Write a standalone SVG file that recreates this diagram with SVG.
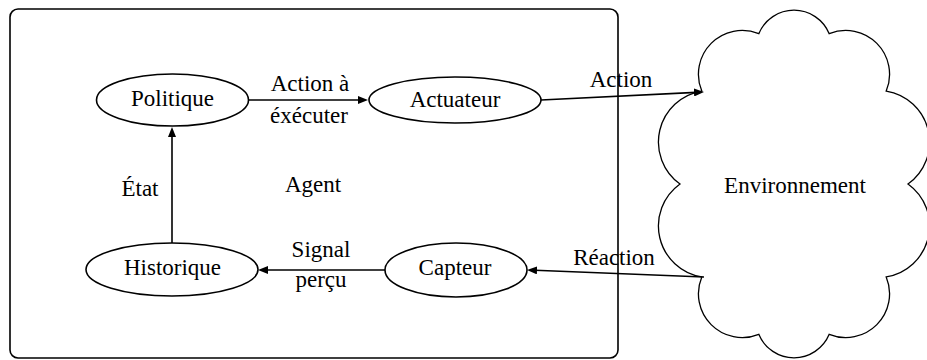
<svg xmlns="http://www.w3.org/2000/svg" width="927" height="360" viewBox="0 0 927 360">
<style>
text{font-size:23px;fill:#000;text-anchor:middle}
.node{fill:#fff;stroke:#000;stroke-width:1.6}
.edge{fill:none;stroke:#000;stroke-width:1.6;marker-end:url(#arr)}
.box{fill:none;stroke:#000;stroke-width:1.6}
.cloud{fill:#fff;stroke:#000;stroke-width:1.3}
</style>
<defs>
<marker id="arr" viewBox="0 0 10 8" markerWidth="10" markerHeight="8" refX="2" refY="4" orient="auto" markerUnits="userSpaceOnUse">
<path d="M0,0 L10,4 L0,8 Z" fill="#000"/>
</marker>
</defs>
<g font-family="Liberation Serif, serif">
<g id="agent">
<rect class="box" x="10" y="9" width="608" height="349" rx="8"/>
<text x="313" y="192">Agent</text>
</g>
<g id="environnement">
<path class="cloud" d="M908,184 A51.6,51.6 0 0 0 886.2,91.1 A43.8,43.8 0 0 0 829.2,33.7 A38.1,38.1 0 0 0 758.8,33.7 A43.8,43.8 0 0 0 701.8,91.1 A51.6,51.6 0 0 0 680,184 A51.6,51.6 0 0 0 701.8,276.9 A43.8,43.8 0 0 0 758.8,334.3 A38.1,38.1 0 0 0 829.2,334.3 A43.8,43.8 0 0 0 886.2,276.9 A51.6,51.6 0 0 0 908,184 Z"/>
<text x="795" y="193">Environnement</text>
</g>
<g id="politique">
<ellipse class="node" cx="172.5" cy="100" rx="76" ry="26"/>
<text x="172.5" y="106">Politique</text>
</g>
<g id="actuateur">
<ellipse class="node" cx="455" cy="100" rx="86" ry="23"/>
<text x="455" y="107">Actuateur</text>
</g>
<g id="historique">
<ellipse class="node" cx="172" cy="269.5" rx="86" ry="26.5"/>
<text x="172.5" y="275">Historique</text>
</g>
<g id="capteur">
<ellipse class="node" cx="456" cy="270" rx="71" ry="27"/>
<text x="455" y="275">Capteur</text>
</g>
<g id="connectors">
<path class="edge" d="M249,100 H360"/>
<text x="310" y="91">Action à</text>
<text x="309" y="123">éxécuter</text>
<path class="edge" d="M172,243 V135"/>
<text x="140" y="196">État</text>
<path class="edge" d="M385,270 H266"/>
<text x="321" y="257">Signal</text>
<text x="321" y="287">perçu</text>
<path class="edge" d="M541,100 L696,92.4"/>
<text x="621" y="87">Action</text>
<path class="edge" d="M704,277 L535,270.3"/>
<text x="614" y="265">Réaction</text>
</g>
</g>
</svg>
